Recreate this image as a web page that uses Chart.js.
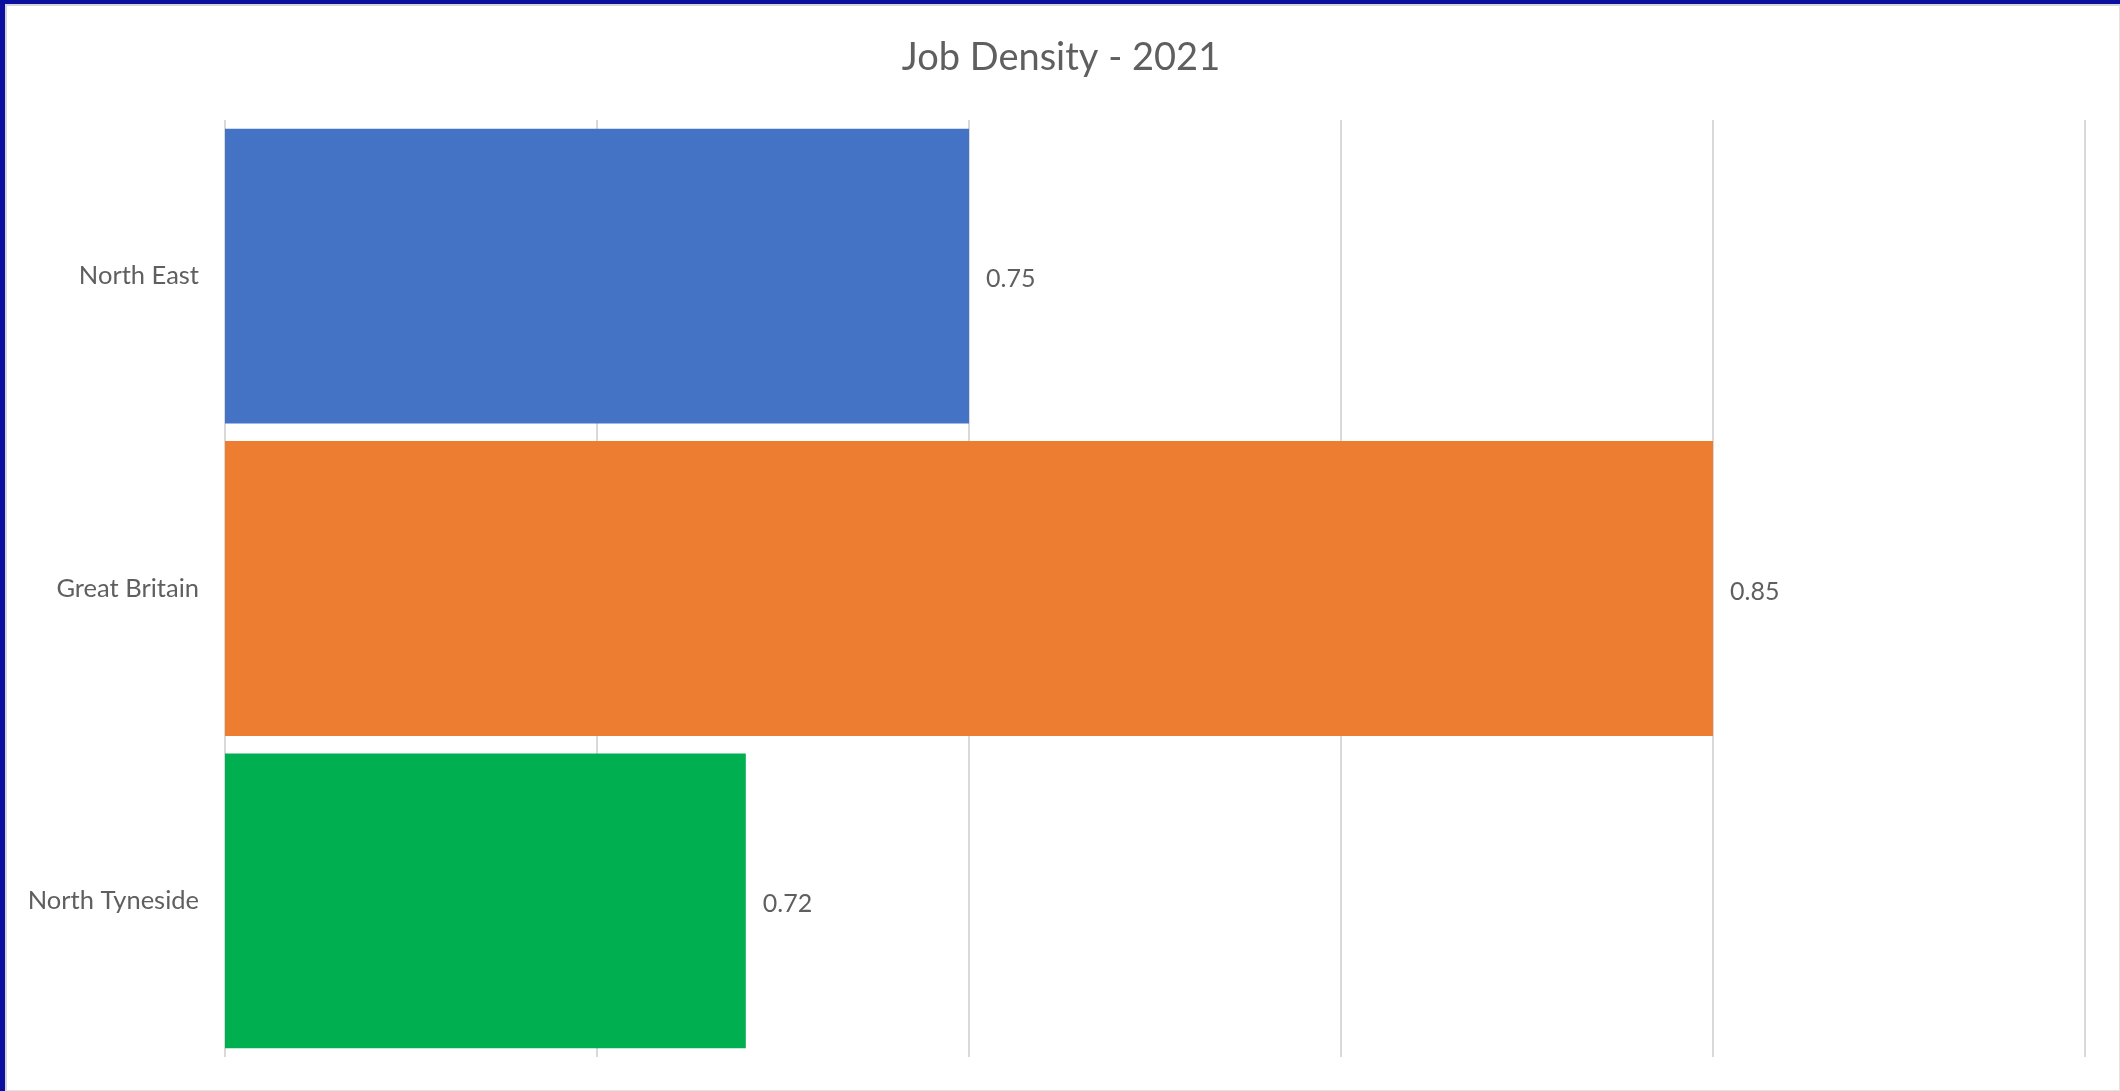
<!DOCTYPE html>
<html>
<head>
<meta charset="utf-8">
<title>Job Density - 2021</title>
<script src="https://cdn.jsdelivr.net/npm/chart.js@4/dist/chart.umd.min.js"></script>
<style>
  html, body { margin: 0; padding: 0; background: #fff; }
  .frame {
    width: 2120px; height: 1091px; box-sizing: border-box;
    border-left: 5px solid #0a0f9f; border-top: 4px solid #0a0f9f;
  }
  .inner {
    width: 100%; height: 100%; box-sizing: border-box;
    border-left: 2px solid #d6d6d6; border-top: 2px solid #d6d6d6;
    border-right: 1px solid #e3e3e3; border-bottom: 1px solid #e3e3e3;
    position: relative;
  }
  canvas { display: block; }
</style>
</head>
<body>
<div class="frame"><div class="inner"><canvas id="chart"></canvas></div></div>
<script>
const chartTitle = 'Job Density - 2021';
const categories = ['North East', 'Great Britain', 'North Tyneside'];
const values = [0.75, 0.85, 0.72];
const barColors = ['#4472C4', '#ED7D31', '#00B050'];
const axisMin = 0.65;
const axisMax = 0.9;
const axisStep = 0.05;

const textColor = '#5f5f5f';
const fontFamily = 'Lato, "Open Sans", sans-serif';

// title centred on the whole canvas, not just the padded box
const centredTitle = {
  id: 'centredTitle',
  afterDraw(chart) {
    const ctx = chart.ctx;
    ctx.save();
    ctx.font = '38px ' + fontFamily;
    ctx.fillStyle = textColor;
    ctx.textAlign = 'center';
    ctx.textBaseline = 'middle';
    ctx.fillText(chartTitle, chart.width / 2 - 2, 52);
    ctx.restore();
  }
};

// value printed just past the end of each bar
const barValueLabels = {
  id: 'barValueLabels',
  afterDatasetsDraw(chart) {
    const ctx = chart.ctx;
    const meta = chart.getDatasetMeta(0);
    ctx.save();
    ctx.font = '25px ' + fontFamily;
    ctx.fillStyle = textColor;
    ctx.textAlign = 'left';
    ctx.textBaseline = 'middle';
    meta.data.forEach((bar, i) => {
      ctx.fillText(values[i].toFixed(2), bar.x + 17, bar.y + 3);
    });
    ctx.restore();
  }
};

new Chart(document.getElementById('chart'), {
  type: 'bar',
  data: {
    labels: categories,
    datasets: [{
      data: values,
      backgroundColor: barColors,
      borderWidth: 0,
      barPercentage: 0.944,
      categoryPercentage: 1
    }]
  },
  options: {
    indexAxis: 'y',
    responsive: true,
    maintainAspectRatio: false,
    animation: false,
    layout: { padding: { left: 0, right: 34, top: 114, bottom: 33 } },
    plugins: {
      legend: { display: false },
      tooltip: { enabled: false },
      title: { display: false }
    },
    scales: {
      x: {
        min: axisMin,
        max: axisMax,
        ticks: { display: false, stepSize: axisStep },
        grid: { color: '#d9d9d9', lineWidth: 2, drawTicks: false },
        border: { display: false }
      },
      y: {
        afterFit(scale) {
          scale.width = 218;
          // labels sit in the middle of their bands, no overhang to reserve
          scale.paddingTop = 0;
          scale.paddingBottom = 0;
        },
        ticks: {
          color: textColor,
          font: { family: fontFamily, size: 25.5 },
          padding: 26
        },
        grid: { display: false, drawTicks: false },
        border: { display: false }
      }
    }
  },
  plugins: [barValueLabels, centredTitle]
});
</script>
</body>
</html>
